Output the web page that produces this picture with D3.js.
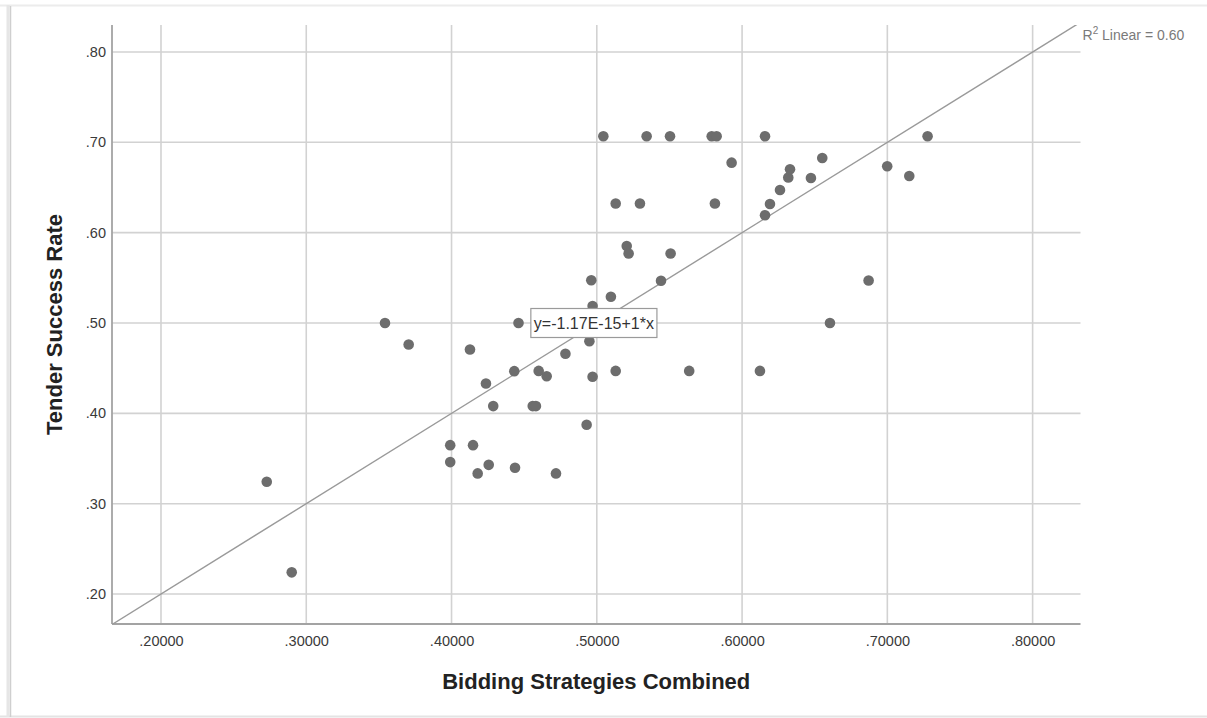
<!DOCTYPE html>
<html>
<head>
<meta charset="utf-8">
<script src="https://cdn.jsdelivr.net/npm/d3@7"></script>
<style>
  html, body { margin: 0; padding: 0; background: #ffffff; }
  svg { display: block; }
  text { font-family: Arial, "Liberation Sans", sans-serif; }
</style>
</head>
<body>
<svg id="chart" width="1207" height="718"></svg>
<script>
// Bidding strategies (x) vs tender success rate (y), one entry per respondent
const bidding = [
  0.2728, 0.2900, 0.3542, 0.3705, 0.3991, 0.3991, 0.4127, 0.4148, 0.4180, 0.4237,
  0.4256, 0.4287, 0.4432, 0.4437, 0.4461, 0.4559, 0.4581, 0.4600, 0.4655, 0.4719,
  0.4784, 0.4930, 0.4949, 0.4962, 0.4971, 0.4971, 0.5045, 0.5097, 0.5130, 0.5130,
  0.5206, 0.5219, 0.5297, 0.5343, 0.5442, 0.5504, 0.5508, 0.5636, 0.5791, 0.5825,
  0.5813, 0.5928, 0.6123, 0.6158, 0.6158, 0.6192, 0.6261, 0.6318, 0.6330, 0.6474,
  0.6552, 0.6605, 0.6871, 0.6999, 0.7151, 0.7277
];
const tender = [
  0.3242, 0.2240, 0.5000, 0.4762, 0.3648, 0.3460, 0.4707, 0.3648, 0.3335, 0.4331,
  0.3430, 0.4080, 0.4467, 0.3397, 0.5000, 0.4080, 0.4080, 0.4470, 0.4411, 0.3335,
  0.4660, 0.3873, 0.4799, 0.5473, 0.5189, 0.4405, 0.7067, 0.5291, 0.6322, 0.4470,
  0.5853, 0.5769, 0.6322, 0.7067, 0.5467, 0.7067, 0.5769, 0.4470, 0.7067, 0.7067,
  0.6322, 0.6775, 0.4470, 0.7067, 0.6193, 0.6318, 0.6473, 0.6610, 0.6701, 0.6605,
  0.6826, 0.5000, 0.5470, 0.6735, 0.6627, 0.7067
];

const xTickValues = [0.2, 0.3, 0.4, 0.5, 0.6, 0.7, 0.8];
const yTickValues = [0.2, 0.3, 0.4, 0.5, 0.6, 0.7, 0.8];

// Linear fit shown on the chart
const fitIntercept = -1.17e-15;
const fitSlope = 1;
const rSquared = 0.60;

const xTitle = "Bidding Strategies Combined";
const yTitle = "Tender Success Rate";

const svg = d3.select("#chart");

// page frame with a soft left shadow
svg.append("rect").attr("x", 0).attr("y", 0).attr("width", 1207).attr("height", 718).attr("fill", "#ffffff");
svg.append("line").attr("x1", 0).attr("x2", 1207).attr("y1", 5.5).attr("y2", 5.5).attr("stroke", "#ececec").attr("stroke-width", 2);
svg.append("line").attr("x1", 0).attr("x2", 1207).attr("y1", 716.5).attr("y2", 716.5).attr("stroke", "#e4e4e4").attr("stroke-width", 2);
svg.append("line").attr("x1", 8).attr("x2", 8).attr("y1", 5).attr("y2", 717).attr("stroke", "#e6e6e6").attr("stroke-width", 3);
svg.append("line").attr("x1", 10.5).attr("x2", 10.5).attr("y1", 6).attr("y2", 717).attr("stroke", "#cfcfcf").attr("stroke-width", 1.5);

const plot = { left: 112, right: 1080.5, top: 25, bottom: 624 };

const x = d3.scaleLinear().domain([0.16628, 0.83296]).range([plot.left, plot.right]);
const y = d3.scaleLinear().domain([0.16681, 0.82987]).range([plot.bottom, plot.top]);

const fmtX = v => d3.format(".5f")(v).replace(/^0/, "");
const fmtY = v => d3.format(".2f")(v).replace(/^0/, "");

// gridlines
const grid = svg.append("g");
grid.selectAll("line.h").data(yTickValues).join("line")
  .attr("x1", plot.left).attr("x2", plot.right)
  .attr("y1", d => y(d)).attr("y2", d => y(d))
  .attr("stroke", "#d2d2d2").attr("stroke-width", 1.6);
grid.selectAll("line.v").data(xTickValues).join("line")
  .attr("y1", plot.top).attr("y2", plot.bottom)
  .attr("x1", d => x(d)).attr("x2", d => x(d))
  .attr("stroke", "#d2d2d2").attr("stroke-width", 1.6);

// axes
const xAxis = svg.append("g")
  .attr("transform", `translate(0,${plot.bottom})`)
  .call(d3.axisBottom(x).tickValues(xTickValues).tickFormat(fmtX).tickSize(0).tickPadding(12));
const yAxis = svg.append("g")
  .attr("transform", `translate(${plot.left},0)`)
  .call(d3.axisLeft(y).tickValues(yTickValues).tickFormat(fmtY).tickSize(0).tickPadding(6));

[xAxis, yAxis].forEach(g => {
  g.select(".domain").attr("stroke", "#a3a3a3").attr("stroke-width", 1.8);
  g.selectAll("text").attr("font-size", "14.5px").attr("fill", "#3a3a3a")
    .attr("font-family", 'Arial, "Liberation Sans", sans-serif');
});
xAxis.select(".domain").attr("d", `M${plot.left},0H${plot.right}`);
yAxis.select(".domain").attr("d", `M0,${plot.top}V${plot.bottom}`);

// fit line, clipped to the plot area
svg.append("clipPath").attr("id", "plotClip")
  .append("rect").attr("x", plot.left).attr("y", plot.top)
  .attr("width", plot.right - plot.left).attr("height", plot.bottom - plot.top);

const xd = x.domain();
const fitPts = [xd[0], xd[1]].map(v => [v, fitIntercept + fitSlope * v]);
svg.append("line")
  .attr("clip-path", "url(#plotClip)")
  .attr("x1", x(fitPts[0][0])).attr("y1", y(fitPts[0][1]))
  .attr("x2", x(fitPts[1][0])).attr("y2", y(fitPts[1][1]))
  .attr("stroke", "#9a9a9a").attr("stroke-width", 1.4);

// points
svg.append("g").selectAll("circle")
  .data(d3.range(bidding.length))
  .join("circle")
  .attr("cx", i => x(bidding[i]))
  .attr("cy", i => y(tender[i]))
  .attr("r", 5.3)
  .attr("fill", "#6d6d6d");

// equation label box
const eqText = `y=${fitIntercept.toExponential(2).toUpperCase()}+${fitSlope}*x`;
const eqG = svg.append("g");
const eq = eqG.append("text")
  .attr("x", x(0.4546) + 3)
  .attr("y", y(0.50))
  .attr("dy", "0.36em")
  .attr("font-size", "16px")
  .attr("fill", "#333333")
  .text(eqText);
const bb = eq.node().getBBox();
eqG.insert("rect", "text")
  .attr("x", bb.x - 3).attr("y", y(0.50) - 14.5)
  .attr("width", bb.width + 6).attr("height", 29)
  .attr("fill", "#ffffff").attr("stroke", "#9a9a9a").attr("stroke-width", 1.2);

// R-squared label at the end of the fit line
const r2 = svg.append("text")
  .attr("x", plot.right + 2)
  .attr("y", 40)
  .attr("font-size", "14px")
  .attr("fill", "#7a7a7a");
r2.append("tspan").text("R");
r2.append("tspan").attr("dy", -6).attr("font-size", "10px").text("2");
r2.append("tspan").attr("dy", 6).text(` Linear = ${d3.format(".2f")(rSquared)}`);

// axis titles
svg.append("text")
  .attr("x", (plot.left + plot.right) / 2)
  .attr("y", 689)
  .attr("text-anchor", "middle")
  .attr("font-size", "22px")
  .attr("font-weight", "bold")
  .attr("fill", "#222222")
  .text(xTitle);
svg.append("text")
  .attr("transform", `translate(62,${(plot.top + plot.bottom) / 2}) rotate(-90)`)
  .attr("text-anchor", "middle")
  .attr("font-size", "22px")
  .attr("font-weight", "bold")
  .attr("fill", "#222222")
  .text(yTitle);
</script>
</body>
</html>
